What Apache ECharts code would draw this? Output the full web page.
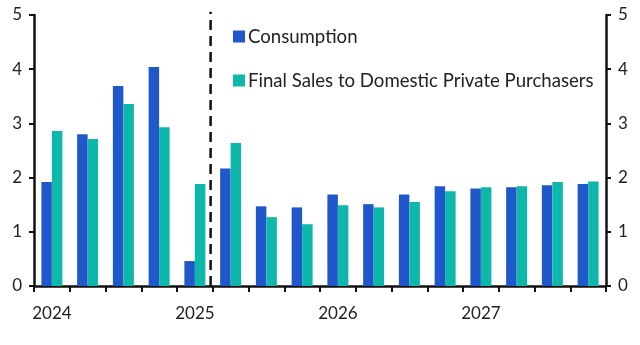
<!DOCTYPE html>
<html>
<head>
<meta charset="utf-8">
<script src="https://cdn.jsdelivr.net/npm/echarts@6/dist/echarts.min.js"></script>
<style>
  html, body { margin: 0; padding: 0; background: #fff; }
  #chart { width: 640px; height: 345px; }
</style>
</head>
<body>
<div id="chart"></div>
<script>
// Quarterly growth, % y/y
const quarters = [
  '2024 Q1', '2024 Q2', '2024 Q3', '2024 Q4',
  '2025 Q1', '2025 Q2', '2025 Q3', '2025 Q4',
  '2026 Q1', '2026 Q2', '2026 Q3', '2026 Q4',
  '2027 Q1', '2027 Q2', '2027 Q3', '2027 Q4'
];
const consumption = [1.92, 2.80, 3.69, 4.04, 0.46, 2.17, 1.47, 1.45,
                     1.69, 1.51, 1.69, 1.84, 1.80, 1.82, 1.86, 1.88];
const finalSales = [2.86, 2.71, 3.36, 2.93, 1.88, 2.64, 1.27, 1.14,
                    1.49, 1.45, 1.55, 1.75, 1.82, 1.84, 1.92, 1.93];
const yTicks = [0, 1, 2, 3, 4, 5];
// Forecast divider, in quarter units from the start of 2024
const forecastStart = 4.94;

const FONT = 'Lato';
const INK = '#111';

const chart = echarts.init(document.getElementById('chart'), null, { renderer: 'canvas' });

const yAxisBase = (pos) => ({
  type: 'value',
  position: pos,
  min: yTicks[0],
  max: yTicks[yTicks.length - 1],
  interval: 1,
  axisLine: { show: true, lineStyle: { color: INK, width: 2.5 } },
  axisTick: { show: true, length: 5, lineStyle: { color: INK, width: 2 } },
  splitLine: { show: false },
  axisLabel: { color: '#222', fontFamily: FONT, fontSize: 17, margin: 12 }
});

chart.setOption({
  animation: false,
  grid: { left: 34, right: 34, top: 15, bottom: 59, containLabel: false },
  legend: {
    orient: 'vertical',
    left: 228,
    top: 22,
    itemWidth: 12,
    itemHeight: 12,
    itemGap: 25,
    icon: 'rect',
    textStyle: { color: '#222', fontFamily: FONT, fontSize: 18.6, padding: [0, 0, 0, -2] },
    data: ['Consumption', 'Final Sales to Domestic Private Purchasers']
  },
  xAxis: [
    {
      type: 'category',
      data: quarters,
      boundaryGap: true,
      axisLine: { show: true, onZero: false, lineStyle: { color: INK, width: 2.5 } },
      axisTick: { show: true, interval: 0, length: 6, inside: false, lineStyle: { color: INK, width: 2 } },
      axisLabel: {
        interval: 0,
        color: '#222',
        fontFamily: FONT,
        fontSize: 17,
        margin: 19,
        formatter: (v) => v.endsWith('Q1') ? v.slice(0, 4) : ''
      },
      splitLine: { show: false }
    },
    {
      type: 'value',
      min: 0,
      max: quarters.length,
      show: false
    }
  ],
  yAxis: [yAxisBase('left'), yAxisBase('right')],
  series: [
    {
      name: 'Consumption',
      type: 'bar',
      data: consumption,
      barWidth: 10.5,
      barGap: '0%',
      itemStyle: { color: '#2058CC' }
    },
    {
      name: 'Final Sales to Domestic Private Purchasers',
      type: 'bar',
      data: finalSales,
      barWidth: 10.5,
      barGap: '0%',
      itemStyle: { color: '#0DB8AA' }
    },
    {
      name: 'forecast',
      type: 'line',
      xAxisIndex: 1,
      yAxisIndex: 0,
      clip: false,
      symbol: 'none',
      silent: true,
      data: [[forecastStart, 0], [forecastStart, 5.06]],
      lineStyle: { color: INK, width: 2.5, type: [10, 6] },
      z: 5
    }
  ]
});
</script>
</body>
</html>
